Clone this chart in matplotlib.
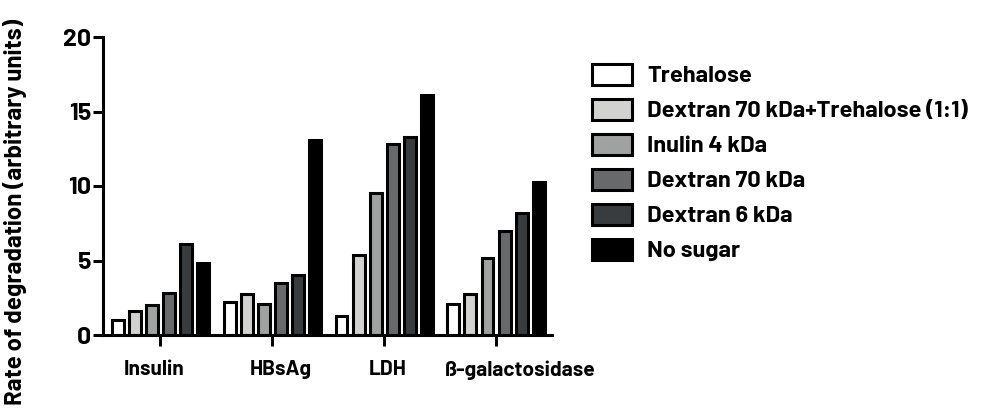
import numpy as np
import matplotlib
matplotlib.use('Agg')
import matplotlib.pyplot as plt
from matplotlib.patches import Patch
from matplotlib.transforms import ScaledTranslation
from matplotlib import font_manager

# a DIN-like face if one is installed, DejaVu otherwise
names = {f.name for f in font_manager.fontManager.ttflist}
fam = 'DejaVu Sans'
for cand in ['Barlow', 'D-DIN', 'Roboto Condensed']:
    if cand in names:
        fam = cand
        break
plt.rcParams['font.family'] = [fam, 'DejaVu Sans']
plt.rcParams['font.weight'] = 'bold'

if fam == 'DejaVu Sans':
    fs_ylab, fs_ytick, fs_xtick, fs_leg = 14, 15, 12, 13.4
else:
    fs_ylab, fs_ytick, fs_xtick, fs_leg = 17.3, 18, 15, 17

# data
proteins = ['Insulin', 'HBsAg', 'LDH', 'ß-galactosidase']
series = ['Trehalose', 'Dextran 70 kDa+Trehalose (1:1)', 'Inulin 4 kDa',
          'Dextran 70 kDa', 'Dextran 6 kDa', 'No sugar']
trehalose = [1.0, 2.2, 1.25, 2.1]
dex70_tre = [1.6, 2.75, 5.4, 2.75]
inulin4 = [2.0, 2.1, 9.55, 5.15]
dex70 = [2.85, 3.5, 12.85, 6.95]
dex6 = [6.1, 4.05, 13.3, 8.2]
no_sugar = [4.85, 13.1, 16.1, 10.3]
values = [trehalose, dex70_tre, inulin4, dex70, dex6, no_sugar]
colors = ['#ffffff', '#d2d3d1', '#a0a2a2', '#67696b', '#393c3f', '#000000']

fig = plt.figure(figsize=(10.03, 4.16), dpi=100)
ax = fig.add_axes([103/1003, 81/416, 449/1003, 298/416])

x = np.arange(len(proteins))
step = 0.152
width = 0.107
for i, (vals, c) in enumerate(zip(values, colors)):
    ax.bar(x + (i - 2.5)*step, vals, width, color=c, edgecolor='black',
           linewidth=2.2, zorder=2)

ax.set_xlim(-0.51, 3.5)
ax.set_ylim(0, 20)
ax.set_yticks([0, 5, 10, 15, 20])
ax.set_xticks(x)

for s in ['top', 'right']:
    ax.spines[s].set_visible(False)
for s in ['left', 'bottom']:
    ax.spines[s].set_linewidth(2.2)
    ax.spines[s].set_zorder(3)
ax.tick_params(axis='y', length=7.5, width=2.2, pad=1)
ax.tick_params(axis='x', length=8, width=2.2, pad=10)

ax.set_xticklabels(proteins, fontsize=fs_xtick, fontweight='bold')
for t in ax.get_yticklabels():
    t.set_fontsize(fs_ytick)
    t.set_fontweight('bold')

# the category labels are not quite centred under their ticks in the original
# (done after tick_params, which resets the label transforms)
shifts = [-6, 9, 4, 24]
for t, dx in zip(ax.get_xticklabels(), shifts):
    t.set_transform(t.get_transform() + ScaledTranslation(dx/100, 0, fig.dpi_scale_trans))

fig.text(15/1003, 0.49, 'Rate of degradation (arbitrary units)', rotation=90,
         ha='center', va='center', fontsize=fs_ylab, fontweight='bold')

handles = [Patch(facecolor=c, edgecolor='black', linewidth=2.2) for c in colors]
fig.legend(handles, series, loc='upper left', bbox_to_anchor=(592/1003, 1 - 64/416),
           frameon=False, borderpad=0, borderaxespad=0,
           handlelength=40/(fs_leg*100/72), handleheight=23/(fs_leg*100/72),
           handletextpad=15/(fs_leg*100/72), labelspacing=0.53,
           prop={'weight': 'bold', 'size': fs_leg})

fig.savefig('out.png', dpi=100)
